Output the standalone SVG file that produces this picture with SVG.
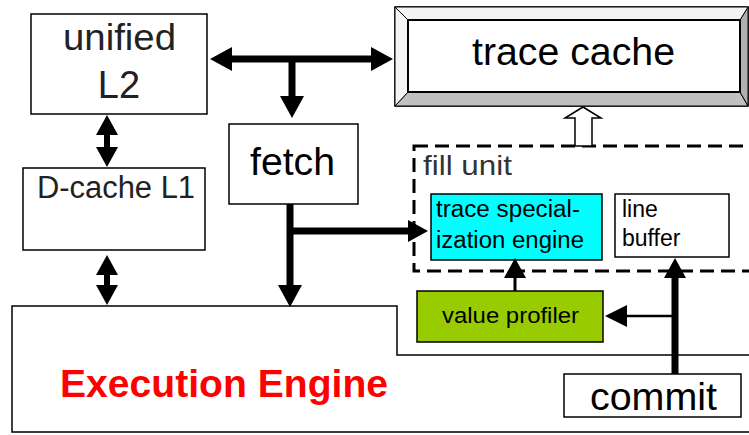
<svg xmlns="http://www.w3.org/2000/svg" width="749" height="435" viewBox="0 0 749 435">
<style>
.box{fill:#fff;stroke:#000;stroke-width:1.5}
.t{font-family:"Liberation Sans",Arial,sans-serif;fill:#000}
.ln{stroke:#000;fill:none}
</style>
<defs>
<marker id="ah" viewBox="0 0 22 24" refX="0" refY="12" markerWidth="22" markerHeight="24" markerUnits="userSpaceOnUse" orient="auto-start-reverse" preserveAspectRatio="none"><path d="M0,0 L22,12 L0,24 z" fill="#000"/></marker>
<marker id="as" viewBox="0 0 20 22" refX="0" refY="11" markerWidth="20" markerHeight="22" markerUnits="userSpaceOnUse" orient="auto-start-reverse" preserveAspectRatio="none"><path d="M0,0 L20,11 L0,22 z" fill="#000"/></marker>
<marker id="at" viewBox="0 0 22 22" refX="0" refY="11" markerWidth="22" markerHeight="22" markerUnits="userSpaceOnUse" orient="auto" preserveAspectRatio="none"><path d="M0,0 L22,11 L0,22 z" fill="#000"/></marker>
</defs>
<g id="exec">
<path class="box" d="M12,306 H397 V355 H752 V432 H12 Z"/>
<text class="t" x="224" y="397" font-size="38" font-weight="bold" style="fill:#ff0000" text-anchor="middle" textLength="328" lengthAdjust="spacingAndGlyphs">Execution Engine</text>
</g>
<g id="l2">
<rect class="box" x="31" y="14" width="176" height="100"/>
<text class="t" x="119.5" y="50" font-size="36" text-anchor="middle" style="fill:#222" textLength="113" lengthAdjust="spacingAndGlyphs">unified</text>
<text class="t" x="119" y="98" font-size="38" text-anchor="middle" style="fill:#222">L2</text>
</g>
<g id="dcache">
<rect class="box" x="23" y="168" width="182" height="82"/>
<text class="t" x="116" y="198" font-size="31" text-anchor="middle" style="fill:#222" textLength="158" lengthAdjust="spacingAndGlyphs">D-cache L1</text>
</g>
<g id="fetch">
<rect class="box" x="229" y="124" width="129" height="80"/>
<text class="t" x="292.5" y="175" font-size="38" text-anchor="middle" textLength="85" lengthAdjust="spacingAndGlyphs">fetch</text>
</g>
<g id="tracecache">
<rect x="395" y="7" width="353" height="99" fill="#fff" stroke="#000" stroke-width="1.5"/>
<path d="M395,106 L408,92 H740 L748,106 Z" fill="#c0c0c0" stroke="#000" stroke-width="1"/>
<path d="M748,7 L740,20 V92 L748,106 Z" fill="#b0b0b0" stroke="#000" stroke-width="1"/>
<path d="M395,7 L408,20 H740 L748,7 Z" fill="#f4f4f4" stroke="#000" stroke-width="1"/>
<path d="M395,7 L408,20 V92 L395,106 Z" fill="#f4f4f4" stroke="#000" stroke-width="1"/>
<rect x="408" y="20" width="332" height="72" fill="#fff" stroke="#000" stroke-width="2"/>
<text class="t" x="573.5" y="65" font-size="38" text-anchor="middle" textLength="203" lengthAdjust="spacingAndGlyphs">trace cache</text>
</g>
<g id="fillunit">
<rect x="414" y="146" width="350" height="125" fill="none" stroke="#000" stroke-width="3" stroke-dasharray="14 7"/>
<text class="t" x="423" y="175" font-size="28" style="fill:#333" textLength="89" lengthAdjust="spacingAndGlyphs">fill unit</text>
</g>
<g id="tse">
<rect x="431" y="194" width="171" height="66" fill="#00ffff" stroke="#000" stroke-width="1.5"/>
<text class="t" x="436" y="217" font-size="23" textLength="144" lengthAdjust="spacingAndGlyphs">trace special-</text>
<text class="t" x="436" y="248" font-size="23" textLength="148" lengthAdjust="spacingAndGlyphs">ization engine</text>
</g>
<g id="linebuffer">
<rect class="box" x="615" y="194" width="114" height="63"/>
<text class="t" x="622" y="217" font-size="23">line</text>
<text class="t" x="622" y="246" font-size="23">buffer</text>
</g>
<g id="profiler">
<rect x="417" y="291" width="186" height="51" fill="#99cc00" stroke="#000" stroke-width="1.5"/>
<text class="t" x="510.5" y="323" font-size="22" text-anchor="middle" textLength="137" lengthAdjust="spacingAndGlyphs">value profiler</text>
</g>
<g id="commit">
<rect class="box" x="564" y="374" width="177" height="43"/>
<text class="t" x="653.5" y="410" font-size="38" text-anchor="middle" textLength="127" lengthAdjust="spacingAndGlyphs">commit</text>
</g>
<g id="connectors">
<line class="ln" x1="232" y1="59" x2="371" y2="59" stroke-width="7" marker-start="url(#ah)" marker-end="url(#ah)"/>
<line class="ln" x1="292" y1="59" x2="292" y2="96" stroke-width="7" marker-end="url(#ah)"/>
<line class="ln" x1="107" y1="135" x2="107" y2="147" stroke-width="6" marker-start="url(#as)" marker-end="url(#as)"/>
<line class="ln" x1="107" y1="275" x2="107" y2="285" stroke-width="6" marker-start="url(#as)" marker-end="url(#as)"/>
<line class="ln" x1="290" y1="204" x2="290" y2="285" stroke-width="7" marker-end="url(#ah)"/>
<line class="ln" x1="290" y1="231" x2="408" y2="231" stroke-width="7" marker-end="url(#as)"/>
<line class="ln" x1="515" y1="291" x2="515" y2="278" stroke-width="3" marker-end="url(#as)"/>
<line class="ln" x1="675" y1="374" x2="675" y2="278" stroke-width="7" marker-end="url(#as)"/>
<line class="ln" x1="675" y1="316" x2="627" y2="316" stroke-width="2.5" marker-end="url(#at)"/>
<polygon points="583,107 601,118 592,118 592,146 575,146 575,118 565,118" fill="#fff" stroke="#000" stroke-width="1.5"/>
</g>
</svg>
